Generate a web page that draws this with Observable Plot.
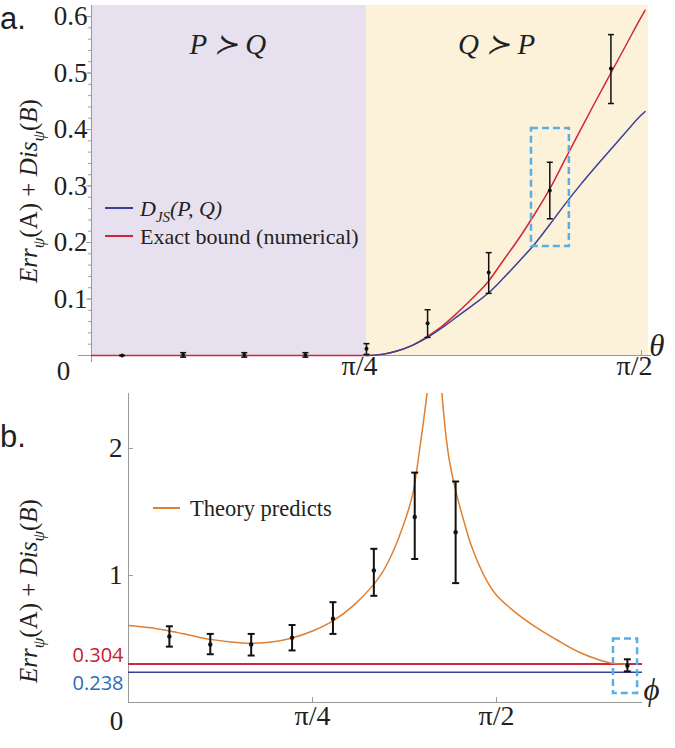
<!DOCTYPE html>
<html><head><meta charset="utf-8">
<script src="https://cdn.jsdelivr.net/npm/d3@7"></script>
<script src="https://cdn.jsdelivr.net/npm/@observablehq/plot@0.6"></script>
<style>
body{margin:0;background:#fff;}
#chart svg{display:block;overflow:visible;}
</style></head><body><div id="chart"></div>
<script>
// ---------- Panel a data (theta in degrees) ----------
const regionNames = ["P \u227B Q", "Q \u227B P"];
const regionStart = [0, 45];
const regionEnd = [45, 91.15];
const regionColors = ["#e7e1ef", "#fcf2da"];

const thetaPoints = [5, 15, 25, 35, 45, 55, 65, 75, 85];
const measuredA   = [0, 0.001, 0.001, 0.001, 0.012, 0.057, 0.147, 0.292, 0.508];
const measuredALo = [0, -0.003, -0.003, -0.003, 0.002, 0.032, 0.110, 0.242, 0.446];
const measuredAHi = [0, 0.005, 0.005, 0.005, 0.021, 0.081, 0.182, 0.342, 0.568];

const thetaExact = [0, 45, 47.5, 50, 52.5, 55, 57.5, 60, 62.5, 65, 67.5, 70, 72.5, 75, 77.5, 80, 82.5, 85, 87.5, 90, 90.6];
const exactBound = [0, 0, 0.002, 0.008, 0.018, 0.034, 0.053, 0.077, 0.103, 0.132, 0.170, 0.208, 0.250, 0.295, 0.347, 0.399, 0.450, 0.500, 0.550, 0.600, 0.611];

const thetaDJS = [45, 47.5, 50, 52.5, 55, 57.5, 60, 62.5, 65, 67.5, 70, 72.5, 75, 77.5, 80, 82.5, 85, 87.5, 90, 90.6];
const djs      = [0, 0.002, 0.008, 0.018, 0.032, 0.050, 0.070, 0.090, 0.111, 0.138, 0.167, 0.197, 0.232, 0.268, 0.302, 0.334, 0.365, 0.396, 0.426, 0.432];

const yTicksA = [0.1, 0.2, 0.3, 0.4, 0.5, 0.6];
const yMinorA = d3.range(0.02, 0.62, 0.02);
const xTicksA = [45, 90];
const xTickLabelsA = ["\u03C0/4", "\u03C0/2"];
const boxA = {x1: 72.0, x2: 78.2, y1: 0.193, y2: 0.402};

// ---------- Panel b data (phi in degrees) ----------
const phiPoints  = [10, 20, 30, 40, 50, 60, 70, 80, 122];
const measuredB   = [0.52, 0.457, 0.457, 0.51, 0.66, 1.04, 1.46, 1.34, 0.29];
const measuredBLo = [0.44, 0.38, 0.37, 0.41, 0.54, 0.84, 1.13, 0.94, 0.245];
const measuredBHi = [0.60, 0.54, 0.54, 0.61, 0.79, 1.21, 1.81, 1.74, 0.34];

const phiLeft    = [0, 5, 10, 15, 20, 25, 30, 35, 40, 45, 50, 55, 60, 62, 64, 66, 68, 69.5, 71.4, 73.4, 74.5];
const theoryLeft = [0.607, 0.59, 0.563, 0.53, 0.497, 0.477, 0.467, 0.476, 0.508, 0.563, 0.643, 0.763, 0.93, 1.02, 1.14, 1.29, 1.47, 1.64, 2.04, 2.54, 2.9];
const phiRight    = [75.8, 76.3, 77.5, 78.5, 80, 82, 84, 87.5, 90, 95, 100, 105, 110, 115, 118, 122];
const theoryRight = [3.0, 2.6, 2.14, 1.9, 1.67, 1.43, 1.22, 0.965, 0.845, 0.70, 0.585, 0.488, 0.40, 0.336, 0.31, 0.302];

const exactValue = 0.304;
const djsValue = 0.238;
const yTicksB = [1, 2];
const xTicksB = [45, 90];
const xTickLabelsB = ["\u03C0/4", "\u03C0/2"];
const boxB = {x1: 118.6, x2: 124.5, y1: 0.07, y2: 0.50};

// ---------- helpers ----------
const serif = "'Liberation Serif', 'DejaVu Serif', serif";
const sans = "'Liberation Sans', Arial, sans-serif";
const ink = "#231f20";
const axisGray = "#9a9a9a";
const red = "#d1263a", navy = "#3a3f99", orange = "#e07f2e", boxBlue = "#5aaee3";
const cap = (hw) => ({draw(ctx) { ctx.moveTo(-hw, 0); ctx.lineTo(hw, 0); }});
const stick = {draw(ctx, l) { ctx.moveTo(0, 0); ctx.lineTo(0, -l); }};

const regions = regionNames.map((name, i) => ({name, start: regionStart[i], end: regionEnd[i], color: regionColors[i]}));
const ptsA = thetaPoints.map((x, i) => ({x, v: measuredA[i], lo: measuredALo[i], hi: measuredAHi[i]}));
const exactData = thetaExact.map((x, i) => ({x, y: exactBound[i]}));
const djsData = thetaDJS.map((x, i) => ({x, y: djs[i]}));
const ptsB = phiPoints.map((x, i) => ({x, v: measuredB[i], lo: measuredBLo[i], hi: measuredBHi[i]}));
const theoryData = [
  ...phiLeft.map((x, i) => ({x, y: theoryLeft[i], branch: "L"})),
  ...phiRight.map((x, i) => ({x, y: theoryRight[i], branch: "R"}))
];

function rich(sel, parts, fs) {
  let shifted = false;
  for (const [t, k] of parts) {
    const ts = sel.append("tspan").text(t);
    if (k === "s") {
      ts.attr("font-size", fs * 0.68).attr("font-style", "italic").attr("dy", fs * 0.28);
      shifted = true;
    } else {
      ts.attr("font-style", k === "i" ? "italic" : "normal");
      if (shifted) { ts.attr("dy", -fs * 0.28); shifted = false; }
    }
  }
}
const yLabelParts = [["Err","i"],["\u03C8","s"],["(","n"],["A","n"],[") + ","n"],["Dis","i"],["\u03C8","s"],["(","n"],["B","i"],[")","n"]];

// ---------- Panel a ----------
const plotA = Plot.plot({
  width: 675, height: 390,
  marginLeft: 91, marginRight: 27, marginTop: 5, marginBottom: 35,
  x: {domain: [0, 91.15], axis: null},
  y: {domain: [0, 0.6195], axis: null},
  style: {fontFamily: serif, color: ink, background: "transparent"},
  marks: [
    Plot.rect(regions, {x1: "start", x2: "end", fill: "color"}),
    Plot.ruleY([0], {stroke: axisGray, insetLeft: -13, insetRight: -3}),
    Plot.ruleX([0], {stroke: axisGray, insetBottom: -7}),
    Plot.vector(yMinorA, {y: d => d, frameAnchor: "left", rotate: -90, length: 3, anchor: "start", shape: stick, stroke: axisGray, strokeWidth: 1}),
    Plot.vector(yTicksA, {y: d => d, frameAnchor: "left", rotate: -90, length: 5, anchor: "start", shape: stick, stroke: axisGray, strokeWidth: 1}),
    Plot.text(yTicksA, {y: d => d, text: d => d.toFixed(1), frameAnchor: "left", dx: -4, textAnchor: "end", fontSize: 27, fontFamily: serif, fill: ink}),
    Plot.vector(xTicksA, {x: d => d, frameAnchor: "bottom", rotate: 0, length: 5, anchor: "start", shape: stick, stroke: axisGray, strokeWidth: 1}),
    Plot.text(xTicksA, {x: d => d, text: (d, i) => xTickLabelsA[i], frameAnchor: "bottom", dy: 19, dx: -7, fontSize: 28, fontFamily: serif, fill: ink}),
    Plot.text([0], {x: d => d, y: d => d, text: () => "0", dx: -28, dy: 16, fontSize: 27, fontFamily: serif, fill: ink}),
    Plot.text(["\u03B8"], {frameAnchor: "bottom-right", text: d => d, dx: 16, dy: 0, fontSize: 31, fontStyle: "italic", fontFamily: serif, fill: ink}),
    Plot.text(regions, {x: (d, i) => [22.3, 66.3][i], y: () => 0.55, text: "name", fontSize: 29, fontStyle: "italic", fontFamily: serif, fill: ink}),
    Plot.line(exactData, {x: "x", y: "y", stroke: red, strokeWidth: 1.5, curve: "monotone-x"}),
    Plot.line(djsData, {x: "x", y: "y", stroke: navy, strokeWidth: 1.5, curve: "monotone-x"}),
    Plot.rect([boxA], {x1: "x1", x2: "x2", y1: "y1", y2: "y2", fill: "none", stroke: boxBlue, strokeWidth: 2.5, strokeDasharray: "7,4"}),
    Plot.ruleX(ptsA, {x: "x", y1: "lo", y2: "hi", stroke: "#111", strokeWidth: 1.5}),
    Plot.dot(ptsA, {x: "x", y: "lo", symbol: cap(3), stroke: "#111", fill: "none", strokeWidth: 1.5}),
    Plot.dot(ptsA, {x: "x", y: "hi", symbol: cap(3), stroke: "#111", fill: "none", strokeWidth: 1.5}),
    Plot.dot(ptsA, {x: "x", y: "v", r: 2, fill: "#111"})
  ]
});

// ---------- Panel b ----------
const plotB = Plot.plot({
  width: 675, height: 358,
  marginLeft: 128, marginRight: 33, marginTop: 3, marginBottom: 46,
  x: {domain: [0, 125.7], axis: null},
  y: {domain: [0, 2.433], axis: null},
  style: {fontFamily: serif, color: ink, background: "transparent"},
  marks: [
    Plot.ruleX([0], {stroke: axisGray}),
    Plot.ruleY([0], {stroke: axisGray}),
    Plot.vector(yTicksB, {y: d => d, frameAnchor: "left", rotate: 90, length: 4, anchor: "start", shape: stick, stroke: axisGray, strokeWidth: 1}),
    Plot.text(yTicksB, {y: d => d, text: d => String(d), frameAnchor: "left", dx: -6, textAnchor: "end", fontSize: 27, fontFamily: serif, fill: ink}),
    Plot.vector(xTicksB, {x: d => d, frameAnchor: "bottom", rotate: 0, length: 5, anchor: "start", shape: stick, stroke: axisGray, strokeWidth: 1}),
    Plot.text(xTicksB, {x: d => d, text: (d, i) => xTickLabelsB[i], frameAnchor: "bottom", dy: 22, fontSize: 28, fontFamily: serif, fill: ink}),
    Plot.text([0], {x: d => d, y: d => d, text: () => "0", dx: -12, dy: 19, fontSize: 27, fontFamily: serif, fill: ink}),
    Plot.text(["\u03D5"], {frameAnchor: "bottom-right", text: d => d, dx: 17, dy: -3, fontSize: 31, fontStyle: "italic", fontFamily: serif, fill: ink}),
    Plot.ruleY([exactValue], {y: d => d, stroke: red, strokeWidth: 2}),
    Plot.ruleY([djsValue], {y: d => d, stroke: navy, strokeWidth: 1.5}),
    Plot.text([exactValue], {y: d => d, text: d => d.toFixed(3), fill: "#c8202f", frameAnchor: "left", dx: -5, dy: -8, textAnchor: "end", fontSize: 20, fontFamily: "'Open Sans', sans-serif"}),
    Plot.text([djsValue], {y: d => d, text: d => d.toFixed(3), fill: "#2b6cb3", frameAnchor: "left", dx: -5, dy: 11.5, textAnchor: "end", fontSize: 20, fontFamily: "'Open Sans', sans-serif"}),
    Plot.line(theoryData, {x: "x", y: "y", z: "branch", stroke: orange, strokeWidth: 1.5, curve: "catmull-rom", clip: true}),
    Plot.rect([boxB], {x1: "x1", x2: "x2", y1: "y1", y2: "y2", fill: "none", stroke: boxBlue, strokeWidth: 2.5, strokeDasharray: "7,4"}),
    Plot.ruleX(ptsB, {x: "x", y1: "lo", y2: "hi", stroke: "#111", strokeWidth: 2}),
    Plot.dot(ptsB, {x: "x", y: "lo", symbol: cap(3.5), stroke: "#111", fill: "none", strokeWidth: 2}),
    Plot.dot(ptsB, {x: "x", y: "hi", symbol: cap(3.5), stroke: "#111", fill: "none", strokeWidth: 2}),
    Plot.dot(ptsB, {x: "x", y: "v", r: 2.2, fill: "#111"})
  ]
});

// ---------- annotations: panel labels, axis titles, legends ----------
function annotate(svgEl, cfg) {
  const s = d3.select(svgEl);
  s.append("text").attr("x", 0).attr("y", cfg.panelY).attr("text-anchor", "start")
    .attr("font-family", sans).attr("font-size", 31).attr("fill", ink).text(cfg.panel);
  const yl = s.append("text").attr("transform", `translate(${cfg.ylx},${cfg.yly}) rotate(-90)`)
    .attr("text-anchor", "middle").attr("dy", "0.35em").attr("font-family", serif).attr("font-size", 25).attr("fill", ink);
  rich(yl, yLabelParts, 25);
  cfg.legend.forEach((L) => {
    s.append("line").attr("x1", L.x1).attr("x2", L.x2).attr("y1", L.y).attr("y2", L.y).attr("stroke", L.color).attr("stroke-width", 2);
    const t = s.append("text").attr("x", L.tx).attr("y", L.y).attr("dy", "0.35em").attr("text-anchor", "start")
      .attr("font-family", serif).attr("font-size", L.fs).attr("fill", ink);
    rich(t, L.parts, L.fs);
  });
}
annotate(plotA, {panel: "a.", panelY: 29, ylx: 28, yly: 191, legend: [
  {x1: 105, x2: 133, y: 208, tx: 140, fs: 22, color: navy, parts: [["D","i"],["JS","s"],["(P, Q)","i"]]},
  {x1: 105, x2: 133, y: 236, tx: 140, fs: 22, color: red, parts: [["Exact bound (numerical)","n"]]}
]});
annotate(plotB, {panel: "b.", panelY: 57, ylx: 28, yly: 201, legend: [
  {x1: 153, x2: 180, y: 118, tx: 190, fs: 22.5, color: orange, parts: [["Theory predicts","n"]]}
]});

const root = document.getElementById("chart");
root.appendChild(plotA);
root.appendChild(plotB);
</script></body></html>
